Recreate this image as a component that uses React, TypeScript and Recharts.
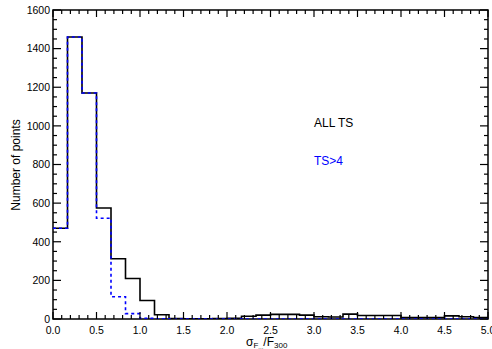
import React from 'react'
import { LineChart, Line, XAxis, YAxis, ReferenceArea, Label, Customized } from 'recharts'

// counts per bin, bin width 1/6 from 0 to 5
const allTs = [
  470, 1460, 1170, 575, 312, 210, 96, 22, 2, 1, 1, 2, 4, 14, 20,
  24, 24, 20, 12, 10, 25, 18, 18, 18, 8, 8, 8, 16, 12, 8,
]
const tsGt4 = [
  470, 1460, 1170, 522, 115, 28, 3, 1, 0, 0, 0, 0, 0, 0, 0,
  0, 0, 0, 0, 0, 0, 0, 0, 0, 0, 0, 0, 0, 0, 0,
]
const binWidth = 1 / 6
const xTicks = Array.from({ length: 51 }, (_, i) => i / 10)
const yTicks = Array.from({ length: 33 }, (_, i) => i * 50)

const data = allTs.map((v, i) => ({ x: i * binWidth, all: v, ts: tsGt4[i] }))
data.push({ x: allTs.length * binWidth, all: allTs[allTs.length - 1], ts: tsGt4[tsGt4.length - 1] })

const LEFT = 53
const RIGHT = 488
const TOP = 10
const BOTTOM = 319
const FONT = 'Liberation Sans, Arial, Helvetica, sans-serif'

const XTick = (props: any) => {
  const { x, payload } = props
  const v = payload.value
  const major = Math.abs(v * 2 - Math.round(v * 2)) < 1e-6
  const len = major ? 7 : 4
  return (
    <g>
      <line x1={x} x2={x} y1={BOTTOM} y2={BOTTOM - len} stroke="#000" strokeWidth={1.2} />
      <line x1={x} x2={x} y1={TOP} y2={TOP + len} stroke="#000" strokeWidth={1.2} />
      {major && (
        <text x={x} y={334} textAnchor="middle" fontSize={10.5} fontFamily={FONT} fill="#000">
          {v.toFixed(1)}
        </text>
      )}
    </g>
  )
}

const YTick = (props: any) => {
  const { y, payload } = props
  const v = payload.value
  const major = v % 200 === 0
  const len = major ? 8 : 4
  return (
    <g>
      <line x1={LEFT} x2={LEFT + len} y1={y} y2={y} stroke="#000" strokeWidth={1.2} />
      <line x1={RIGHT} x2={RIGHT - len} y1={y} y2={y} stroke="#000" strokeWidth={1.2} />
      {major && (
        <text x={50} y={y + 3.8} textAnchor="end" fontSize={10.5} fontFamily={FONT} fill="#000">
          {v}
        </text>
      )}
    </g>
  )
}

const Notes = () => (
  <g fontFamily={FONT} fontSize={12}>
    <text x={314} y={127} fill="#000">ALL TS</text>
    <text x={314} y={165} fill="#0000ff">TS&gt;4</text>
  </g>
)

const XTitle = () => (
  <text x={246} y={346} fontFamily={FONT} fontSize={12} fill="#000">
    σ
    <tspan fontSize={8} dy={2}>F</tspan>
    <tspan fontSize={6} dy={1}>...</tspan>
    <tspan fontSize={12} dy={-3}>/F</tspan>
    <tspan fontSize={8} dy={2}>300</tspan>
  </text>
)

const YTitle = () => (
  <text
    x={20}
    y={165}
    transform="rotate(-90 20 165)"
    textAnchor="middle"
    fontFamily={FONT}
    fontSize={12}
    fill="#000"
  >
    Number of points
  </text>
)

export default function App() {
  return (
    <div style={{ position: 'absolute', left: 0, top: 0, background: '#fff' }}>
      <LineChart width={492} height={349} data={data} margin={{ top: TOP, right: 492 - RIGHT, bottom: 0, left: 0 }}>
        <XAxis
          dataKey="x"
          type="number"
          domain={[0, 5]}
          ticks={xTicks}
          interval={0}
          height={30}
          axisLine={false}
          tickLine={false}
          tick={<XTick />}
          allowDataOverflow
        >
          <Label content={<XTitle />} />
        </XAxis>
        <YAxis
          type="number"
          domain={[0, 1600]}
          ticks={yTicks}
          interval={0}
          width={LEFT}
          axisLine={false}
          tickLine={false}
          tick={<YTick />}
          allowDataOverflow
        >
          <Label content={<YTitle />} />
        </YAxis>
        <ReferenceArea
          x1={0}
          x2={5}
          y1={0}
          y2={1600}
          fill="none"
          fillOpacity={0}
          stroke="#000"
          strokeWidth={1.5}
          ifOverflow="visible"
        />
        <Line
          type="stepAfter"
          dataKey="all"
          stroke="#000"
          strokeWidth={1.6}
          dot={false}
          isAnimationActive={false}
        />
        <Line
          type="stepAfter"
          dataKey="ts"
          stroke="#0000ff"
          strokeWidth={1.6}
          strokeDasharray="3 3"
          dot={false}
          isAnimationActive={false}
        />
        <Customized component={Notes} />
      </LineChart>
    </div>
  )
}
